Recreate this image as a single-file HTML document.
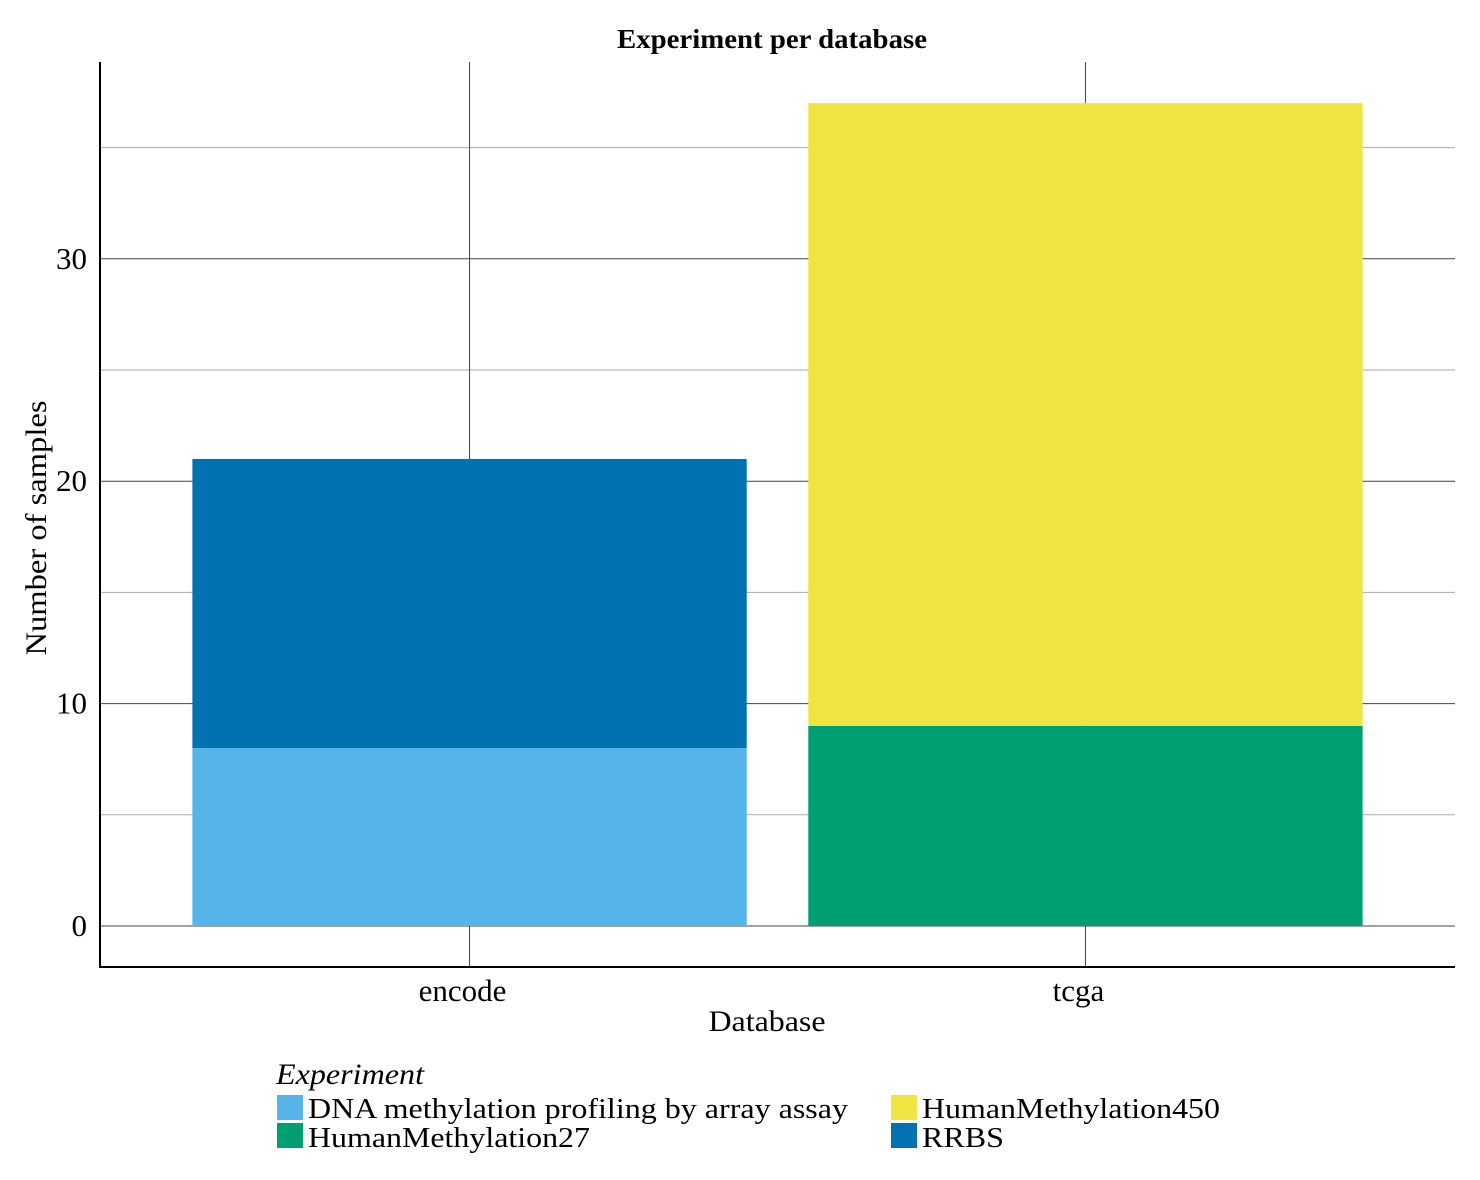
<!DOCTYPE html>
<html><head><meta charset="utf-8"><style>body{margin:0;background:#fff}svg{display:block;font-family:"Liberation Serif",serif}</style></head>
<body>
<svg id="chart" width="1480" height="1180" xmlns="http://www.w3.org/2000/svg">
<text x="772" y="48" text-anchor="middle" font-size="27" font-weight="bold" textLength="310" lengthAdjust="spacingAndGlyphs">Experiment per database</text>
<g id="grid"></g><g id="bars"></g><g id="axes"></g>
<text x="767" y="1031" text-anchor="middle" font-size="30" textLength="117" lengthAdjust="spacingAndGlyphs">Database</text>
<text transform="translate(46,528) rotate(-90)" text-anchor="middle" font-size="30" textLength="255" lengthAdjust="spacingAndGlyphs">Number of samples</text>
<g>
<text x="276" y="1084" font-size="30" font-style="italic" textLength="148" lengthAdjust="spacingAndGlyphs">Experiment</text>
<rect x="277" y="1095" width="26" height="25" fill="#56B4E9"/>
<text x="308" y="1118" font-size="29" textLength="540" lengthAdjust="spacingAndGlyphs">DNA methylation profiling by array assay</text>
<rect x="277" y="1123" width="26" height="25" fill="#009E73"/>
<text x="308" y="1147" font-size="29" textLength="282" lengthAdjust="spacingAndGlyphs">HumanMethylation27</text>
<rect x="891" y="1095" width="26" height="25" fill="#F0E442"/>
<text x="922" y="1118" font-size="29" textLength="298" lengthAdjust="spacingAndGlyphs">HumanMethylation450</text>
<rect x="891" y="1123" width="26" height="25" fill="#0072B2"/>
<text x="922" y="1147" font-size="29" textLength="82" lengthAdjust="spacingAndGlyphs">RRBS</text>
</g>
</svg>
<script>
const categories = ["encode", "tcga"];
const seriesNames = ["DNA methylation profiling by array assay", "RRBS", "HumanMethylation27", "HumanMethylation450"];
const seriesColors = ["#56B4E9", "#0072B2", "#009E73", "#F0E442"];
const arrayValues = [8, 0];
const rrbsValues = [13, 0];
const hm27Values = [0, 9];
const hm450Values = [0, 28];
const yTicks = [0, 10, 20, 30];
const yMinor = [5, 15, 25, 35];

const NS = "http://www.w3.org/2000/svg";
const L = 100, R = 1455, T = 62, B = 967;
const y = v => 926 - v * 22.24;
const band = (R - L) / 2.2;
const xc = i => L + band * (0.6 + i);
const bw = band * 0.9;
function mk(tag, attrs, parent) {
  const e = document.createElementNS(NS, tag);
  for (const k in attrs) e.setAttribute(k, attrs[k]);
  document.getElementById(parent).appendChild(e);
  return e;
}
yMinor.forEach(v => {
  const l = mk("line", {x1: L, x2: R, y1: y(v), y2: y(v), stroke: "#aaa", "stroke-width": 1}, "grid");
  
  
});
yTicks.forEach(v => {
  const l = mk("line", {x1: L, x2: R, y1: y(v), y2: y(v), stroke: "#444", "stroke-width": 1}, "grid");
  
  
  const t = mk("text", {x: 87, y: y(v) + 10, "text-anchor": "end", "font-size": 31}, "axes");
  t.textContent = v;
  
  
});
categories.forEach((c, i) => {
  const l = mk("line", {x1: xc(i), x2: xc(i), y1: T, y2: B, stroke: "#444", "stroke-width": 1}, "grid");
  
  
  const t = mk("text", {x: xc(i) - 7, y: 1001, "text-anchor": "middle", "font-size": 31}, "axes");
  t.textContent = c;
  
  
  let base = 0;
  [arrayValues, rrbsValues, hm27Values, hm450Values].forEach((s, k) => {
    const v = s[i];
    if (v > 0) {
      const r = mk("rect", {x: xc(i) - bw / 2, y: y(base + v), width: bw, height: y(base) - y(base + v), fill: seriesColors[k]}, "bars");
      
      
    }
    base += v;
  });
});
const ax = mk("path", {d: `M${L},${T}V${B}H${R}`, fill: "none", stroke: "#000", "stroke-width": 2}, "axes");


</script>
</body></html>
